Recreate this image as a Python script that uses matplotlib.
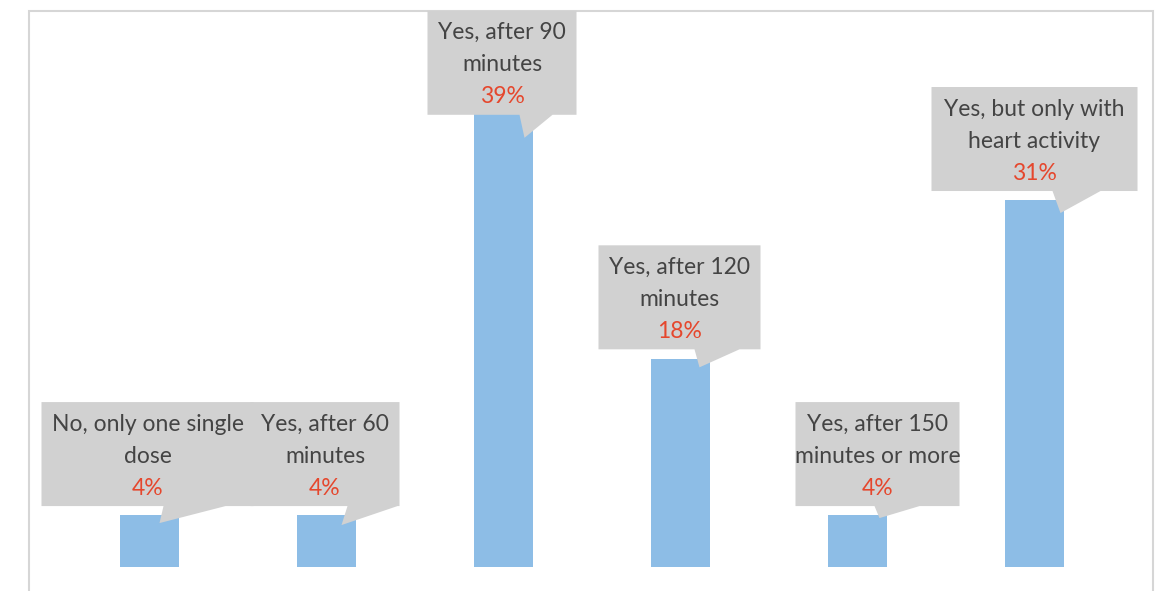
import matplotlib
matplotlib.use("Agg")
import matplotlib.pyplot as plt
import matplotlib.transforms as mtransforms
from matplotlib.patches import Polygon, Rectangle

# -----------------------
# Data
# -----------------------

labels = [
    "No, only one single\ndose",
    "Yes, after 60\nminutes",
    "Yes, after 90\nminutes",
    "Yes, after 120\nminutes",
    "Yes, after 150\nminutes or more",
    "Yes, but only with\nheart activity",
]
values = [4.4, 4.4, 39.0, 17.6, 4.4, 31.1]

# callout layout in pixels, relative to bar centre / bar top (y downwards)
# (box left, box right, box top, pointer tip x, tip y, base left, base right)
layout = [
    (-108, 104, -113, 10, 8, 14, 76),
    (-76, 73, -113, 15, 10, 21, 71),
    (-76, 73, -96, 21, 31, 16, 49),
    (-82, 80, -114, 19, 8, 14, 59),
    (-62, 102, -113, 22, 3, 17, 62),
    (-103, 103, -113, 26, 13, 18, 66),
]

bar_color = "#8DBDE6"
box_color = "#D1D1D1"
text_color = "#444444"
pct_color = "#E5472D"

W, H = 1161, 591
fig = plt.figure(figsize=(W / 100, H / 100), dpi=100)
plt.rcParams["font.family"] = ["Lato", "DejaVu Sans"]

# plot area: zero line at y=567 px, top at y=11 px
ax = fig.add_axes([61 / W, (H - 567) / H, 1062 / W, 556 / H])
ax.set_xlim(-0.5, 5.5)
ax.set_ylim(0, 556 / 11.8)
ax.bar(range(len(values)), values, width=0.333, color=bar_color)
ax.axis("off")

# chart frame
fig.patches.append(Rectangle((29 / W, -0.1), (1153 - 29) / W, (H - 11) / H + 0.1,
                             transform=fig.transFigure, fill=False,
                             edgecolor="#D6D6D6", linewidth=1.5, zorder=0))

fig.canvas.draw()
ident = mtransforms.IdentityTransform()

for i, (lab, v) in enumerate(zip(labels, values)):
    cx, ty = ax.transData.transform((i, v))
    ty = H - ty  # to image coords (y down)
    bl, br, bt, tx, tyy, pl, pr = layout[i]
    top = ty + bt
    bot = top + 104

    def d(x, y):
        return (cx + x, H - y)

    box = Polygon([d(bl, top), d(br, top), d(br, bot), d(pr, bot),
                   d(tx, ty + tyy), d(pl, bot), d(bl, bot)],
                  closed=True, transform=ident, facecolor=box_color,
                  edgecolor="none", zorder=5)
    fig.patches.append(box)

    tc = cx + (bl + br) / 2
    l1, l2 = lab.split("\n")
    fig.text(tc, H - (top + 22), l1, transform=ident, ha="center", va="center",
             fontsize=16.5, color=text_color, zorder=6)
    fig.text(tc, H - (top + 54), l2, transform=ident, ha="center", va="center",
             fontsize=16.5, color=text_color, zorder=6)
    fig.text(tc, H - (top + 86), f"{v:.0f}%", transform=ident, ha="center",
             va="center", fontsize=16.5, color=pct_color, zorder=6)

fig.savefig("out.png", dpi=100)
